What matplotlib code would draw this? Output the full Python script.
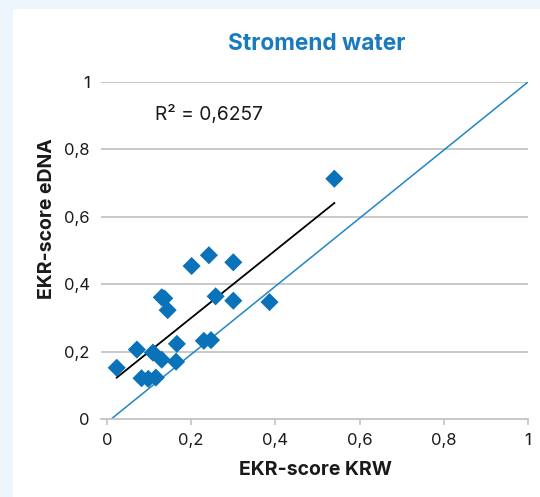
import numpy as np
import matplotlib
matplotlib.use("Agg")
import matplotlib.pyplot as plt
from matplotlib.patches import Rectangle

plt.rcParams['font.family'] = ['Inter', 'DejaVu Sans']

title = "Stromend water"
xlabel = "EKR-score KRW"
ylabel = "EKR-score eDNA"
r2_text = "R² = 0,6257"

krw = [0.023, 0.071, 0.082, 0.098, 0.109, 0.116, 0.130, 0.130, 0.136, 0.144,
       0.166, 0.164, 0.201, 0.242, 0.300, 0.258, 0.300, 0.386, 0.230, 0.247, 0.540]
edna = [0.152, 0.206, 0.121, 0.119, 0.197, 0.123, 0.176, 0.361, 0.358, 0.323,
        0.223, 0.170, 0.454, 0.486, 0.465, 0.364, 0.351, 0.347, 0.232, 0.234, 0.713]

ticks = [0, 0.2, 0.4, 0.6, 0.8, 1.0]
tick_labels = ["0", "0,2", "0,4", "0,6", "0,8", "1"]

blue = "#0a72b8"
grid = "#c4c4c4"
txt = "#1a1a1a"

W, H = 540, 497
fig = plt.figure(figsize=(W / 100, H / 100), dpi=100)
fig.patch.set_facecolor("#eef6fd")
fig.patches.append(Rectangle((13 / W, 0), 1, 1 - 9 / H, transform=fig.transFigure,
                             facecolor="white", edgecolor="none", zorder=-10))

ax = fig.add_axes([101 / W, (H - 419) / H, (528 - 101) / W, (419 - 82) / H])
ax.set_facecolor("none")
ax.set_zorder(5)
ax.set_xlim(-0.0143, 1.0)
ax.set_ylim(0, 1.0)

for t in ticks[1:]:
    ax.axhline(t, color=grid, lw=1.3, zorder=1)

ax.plot([0.01, 1.0], [0.0, 1.0], color="#1f86c8", lw=1.1, zorder=2)

k = np.array(krw)
e = np.array(edna)
m, b = np.polyfit(k, e, 1)
xs = np.array([k.min(), k.max()])
ax.plot(xs, m * xs + b, color="black", lw=1.3, zorder=3)

ax.scatter(krw, edna, marker="D", s=85, color=blue, edgecolors="none", zorder=4)

ax.text(0.114, 0.887, r2_text, fontsize=13.8, va="baseline", ha="left", color=txt)

for s in ["top", "right", "left"]:
    ax.spines[s].set_visible(False)
ax.spines["bottom"].set_color(grid)
ax.spines["bottom"].set_linewidth(1.3)

ax.set_xticks(ticks)
ax.set_xticklabels(tick_labels)
ax.set_yticks(ticks)
ax.set_yticklabels(tick_labels)
ax.tick_params(axis="x", colors=grid, length=4, width=1.2, labelcolor=txt,
               labelsize=12, pad=6)
ax.tick_params(axis="y", length=0, labelcolor=txt, labelsize=12, pad=8)

fig.text(315 / W, 1 - 470 / H, xlabel, fontsize=14, fontweight="bold",
         color=txt, ha="center", va="center")
fig.text(47.5 / W, 1 - 219 / H, ylabel, fontsize=14, fontweight="bold",
         color=txt, ha="center", va="center", rotation=90)

fig.text(317 / W, 1 - 44 / H, title, fontsize=16.3, fontweight="bold",
         color="#1a7abf", ha="center", va="center")

fig.savefig("out.png", dpi=100, facecolor=fig.get_facecolor())
